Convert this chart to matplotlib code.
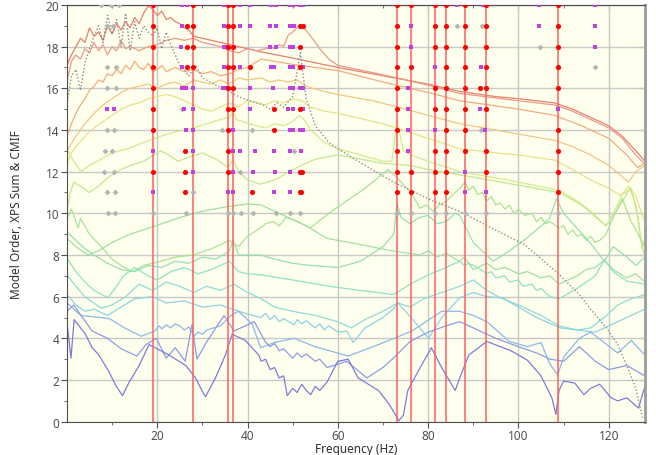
import matplotlib
matplotlib.use("Agg")
import matplotlib.pyplot as plt

# ---- curve data (frequency Hz, value) ----
f_red1 = [0, 1, 2, 3, 4, 5, 6, 7, 8, 9, 10, 11, 12, 13, 14, 15, 16, 17, 18, 19, 20, 21, 22, 23, 24, 25, 26, 27, 28, 30, 32, 34, 36, 38, 40, 43, 50, 60, 70, 80, 87, 95, 100, 108, 112, 116, 120, 123, 126, 128]
v_red1 = [17.1, 17.6, 18.0, 18.4, 18.2, 18.9, 18.5, 18.7, 18.3, 19.0, 18.6, 19.1, 18.8, 19.2, 18.9, 19.4, 19.1, 19.6, 19.95, 19.8, 19.5, 19.7, 19.3, 19.4, 19.2, 19.1, 18.9, 18.8, 18.5, 18.4, 18.3, 18.2, 18.1, 18.0, 17.9, 17.75, 17.45, 17.0, 16.6, 16.2, 15.85, 15.6, 15.5, 15.3, 15.0, 14.6, 14.2, 13.7, 13.0, 12.5]

f_red2 = [0, 1, 2, 3, 4, 5, 6, 7, 8, 9, 10, 11, 12, 13, 14, 16, 18, 20, 22, 24, 26, 28, 30, 32, 34, 36, 38, 40, 42, 44, 45, 46, 47, 48, 49, 50, 51, 51.7, 52.5, 54, 56, 58, 60, 70, 80, 87, 100, 108, 112, 116, 120, 123, 126, 128]
v_red2 = [16.3, 17.3, 17.6, 17.4, 17.9, 17.7, 18.2, 17.8, 18.1, 17.6, 18.0, 17.8, 18.3, 17.9, 18.0, 17.8, 18.0, 18.1, 18.3, 18.4, 18.3, 18.4, 18.2, 18.1, 18.0, 17.8, 17.7, 17.9, 17.8, 17.9, 18.0, 17.9, 18.1, 18.0, 18.55, 18.7, 18.9, 19.0, 18.9, 18.5, 17.9, 17.4, 17.1, 16.65, 16.15, 15.75, 15.4, 15.2, 14.9, 14.5, 14.1, 13.6, 12.8, 12.35]

f_orange = [0, 1, 2, 3, 4, 5, 6, 7, 8, 9, 10, 11, 12, 13, 14, 15, 16, 17, 18, 19, 20, 21, 22, 24, 26, 28, 30, 32, 34, 36, 38, 40, 43, 50, 60, 70, 80, 87, 100, 108, 114, 120, 124, 126.4, 128]
v_orange = [13.7, 14.3, 14.8, 15.2, 15.5, 15.9, 16.1, 16.4, 16.3, 16.7, 16.6, 16.9, 16.7, 17.1, 16.9, 17.3, 17.0, 16.9, 17.2, 16.8, 16.9, 17.1, 16.8, 17.0, 16.8, 16.9, 16.7, 16.8, 16.6, 16.7, 16.9, 17.0, 17.4, 17.15, 16.85, 16.3, 15.8, 15.4, 15.0, 14.7, 14.2, 13.6, 12.8, 12.2, 12.4]

f_yorange = [0, 2, 4, 6, 8, 10, 12, 14, 16, 18, 20, 22, 24, 26, 28, 30, 32, 34, 36, 38, 40, 43, 45, 47, 49, 51, 53, 56, 60, 67.8, 75, 80, 87, 95, 100, 108, 112, 116, 120, 124.4, 126, 128]
v_yorange = [13.0, 13.7, 14.3, 14.8, 15.2, 15.5, 15.8, 16.0, 16.1, 16.2, 16.0, 16.2, 16.3, 16.1, 16.4, 16.3, 16.2, 16.4, 16.2, 16.5, 16.4, 16.5, 16.3, 16.4, 16.3, 16.4, 16.1, 15.9, 15.7, 15.4, 15.0, 14.7, 14.3, 14.0, 13.8, 13.5, 13.2, 12.8, 12.3, 11.5, 12.0, 12.3]

f_yellow = [0, 1, 2, 4, 6, 8, 10, 12, 14, 16, 18, 20, 22, 24, 26, 28, 30, 32, 34, 36, 38, 40, 42, 44, 46, 48, 50, 52, 54, 57, 60, 70, 80, 87, 95, 100, 108, 112, 116, 120, 122.6, 124.5, 126, 128]
v_yellow = [12.4, 12.9, 13.2, 13.7, 14.1, 14.4, 14.7, 15.0, 15.2, 15.3, 15.5, 15.6, 15.7, 15.6, 15.4, 15.2, 15.0, 14.9, 15.1, 15.3, 15.1, 15.4, 15.3, 15.2, 15.4, 15.3, 15.5, 15.4, 15.1, 14.9, 14.8, 14.3, 13.6, 13.1, 12.9, 12.8, 12.55, 12.1, 11.6, 11.2, 10.85, 11.3, 10.8, 9.6]

f_ygreen1 = [0, 1.5, 3.1, 5, 7.6, 10, 13.5, 17, 20.8, 24, 28, 31, 34, 36, 36.8, 37.5, 39, 42, 44, 46, 48, 50, 51.5, 52.5, 54, 57, 60, 65, 70, 72, 73.1, 74.5, 76.2, 80, 87, 95, 100, 109, 113, 116, 119.4, 121, 123, 125, 126.5, 127.4, 128]
v_ygreen1 = [13.1, 12.5, 12.0, 12.3, 12.6, 12.9, 13.1, 13.4, 13.7, 13.9, 14.1, 14.3, 14.5, 14.6, 14.9, 14.5, 14.4, 14.2, 14.1, 14.3, 14.2, 14.4, 14.7, 14.5, 14.0, 13.4, 13.1, 12.8, 12.5, 12.5, 14.5, 13.0, 12.8, 12.5, 12.0, 11.7, 11.5, 11.1, 10.6, 10.1, 9.4, 10.0, 10.9, 11.2, 9.8, 8.3, 8.8]

f_ygreen2 = [0, 0.8, 1.5, 3, 5, 7, 9, 11, 14, 17, 20.8, 22.5, 24.6, 27, 30, 33, 35.7, 36.8, 38, 40, 42.9, 46, 50, 55, 60, 65, 70, 76, 80, 87, 100, 109, 114, 119.4, 122, 124.7, 126, 127.4, 128]
v_ygreen2 = [10.2, 11.0, 11.5, 11.3, 11.0, 11.3, 11.7, 12.0, 12.3, 12.5, 13.0, 12.8, 12.5, 12.7, 12.9, 12.6, 12.2, 12.6, 12.0, 11.6, 11.4, 11.6, 12.1, 12.6, 12.8, 12.6, 12.4, 12.3, 12.1, 11.85, 11.35, 11.0, 10.4, 9.4, 10.2, 11.2, 10.4, 8.3, 8.0]

f_green1 = [0, 1, 2.5, 3, 5, 8, 10, 12, 14.5, 17, 20.8, 24, 28, 32, 36, 38, 40, 42.9, 44, 45.8, 47, 48.5, 50.3, 52, 53.9, 58, 62, 66, 71.2, 73.8, 76, 78.2, 79.5, 81.1, 82.5, 84.1, 85.5, 87, 88.2, 89, 90, 91, 92, 93, 94, 95, 96, 97, 98, 99, 100, 101.4, 103, 104, 105, 106, 107, 109, 110, 111, 112, 113, 114, 115, 116, 117, 118, 119.3, 121, 123, 125, 128]
v_green1 = [9.75, 10.2, 9.3, 9.75, 9.0, 8.3, 7.8, 7.5, 7.2, 7.5, 7.7, 7.9, 8.0, 8.3, 8.7, 8.4, 8.9, 9.3, 9.5, 9.6, 9.4, 9.8, 9.7, 9.5, 9.3, 10.0, 10.6, 11.2, 12.1, 11.55, 11.05, 10.25, 10.4, 10.1, 10.4, 10.6, 10.9, 11.2, 11.5, 11.1, 11.3, 10.9, 11.0, 10.6, 10.8, 10.4, 10.5, 10.2, 10.4, 10.0, 10.2, 9.9, 10.0, 9.6, 9.8, 9.5, 9.6, 9.3, 9.4, 9.0, 9.2, 8.9, 9.0, 8.7, 8.9, 8.6, 8.7, 8.95, 9.8, 10.7, 9.6, 8.4]

f_green2 = [0, 2, 4.6, 7, 10, 14, 19, 25, 30, 35, 40, 43, 48, 53, 57.6, 65, 72, 78.2, 80, 82, 84, 86, 87, 88, 89, 91, 93, 95, 97, 100, 102, 105, 107, 109, 111, 113, 115, 117, 119, 121, 124, 126, 128]
v_green2 = [8.8, 8.4, 8.0, 8.2, 8.6, 9.0, 9.35, 9.8, 10.1, 10.3, 10.45, 10.4, 9.9, 9.4, 8.8, 8.5, 8.2, 8.0, 8.2, 7.9, 8.1, 7.8, 7.7, 7.9, 7.6, 7.4, 7.6, 7.3, 7.4, 7.1, 7.2, 6.9, 7.0, 6.6, 6.8, 7.0, 7.3, 7.4, 7.75, 7.3, 6.9, 7.1, 6.7]

f_green3 = [0, 2, 4, 6, 9, 12, 15, 18, 21, 24, 27, 30, 33, 36, 36.8, 38, 42.9, 46, 50, 54, 60, 65, 70, 72.4, 73.1, 74, 76, 78, 80, 82, 84, 86, 87, 90, 94.4, 98, 101.8, 104, 106.9, 108.4, 110, 112.9, 115, 117.3, 119, 121, 124, 126, 128]
v_green3 = [9.1, 8.7, 8.3, 8.0, 7.6, 7.3, 7.2, 7.5, 7.4, 7.7, 7.6, 7.9, 7.8, 8.2, 8.7, 8.0, 8.0, 7.8, 7.6, 7.5, 7.4, 7.7, 8.4, 9.0, 10.5, 9.8, 9.5, 9.8, 9.9, 9.5, 9.6, 10.0, 9.9, 8.6, 7.7, 8.2, 8.8, 9.2, 9.75, 10.7, 10.0, 9.3, 8.8, 8.2, 7.7, 8.4, 7.9, 7.5, 7.9]

f_teal1 = [0, 2, 4, 6, 9.1, 11, 12.5, 15, 18, 20, 23, 26, 29, 32, 36, 38, 40, 42.9, 50, 58, 65, 72.4, 76, 80, 84, 87, 88, 89, 90, 91, 93, 94, 95, 97, 98, 100, 101, 103, 104, 105, 107, 109, 113, 117, 119, 121, 124, 128]
v_teal1 = [7.85, 7.2, 6.7, 6.3, 5.95, 6.5, 7.0, 7.4, 7.0, 6.8, 7.2, 7.4, 7.1, 7.3, 7.7, 7.2, 7.1, 7.05, 6.8, 6.5, 6.3, 6.1, 6.6, 7.05, 7.4, 7.7, 7.5, 7.6, 7.3, 7.4, 7.1, 7.2, 6.9, 7.0, 6.7, 6.8, 6.5, 6.6, 6.3, 6.4, 6.0, 5.9, 6.4, 7.0, 7.75, 7.2, 6.75, 6.6]

f_teal2 = [0, 2, 4, 7.6, 10, 13, 16, 19, 22, 25, 28, 31, 34, 37, 40, 43, 46, 50, 55, 60, 63, 66, 70, 73.3, 76, 79, 83, 87, 90, 93, 96, 100, 105, 109, 113, 116, 119, 122, 125, 128]
v_teal2 = [7.05, 6.5, 6.0, 5.45, 5.6, 6.0, 6.6, 6.3, 6.7, 6.5, 6.2, 6.5, 6.3, 6.6, 6.2, 5.9, 5.5, 5.3, 5.1, 4.8, 4.5, 4.9, 5.3, 5.7, 5.5, 5.9, 6.2, 6.5, 6.8, 6.3, 5.95, 5.6, 5.1, 4.6, 4.4, 4.5, 5.0, 5.6, 5.9, 6.1]

f_cyan = [0, 2, 4, 6, 9, 12, 15, 19, 22, 26, 30, 34, 38, 42.9, 44, 45, 46, 47, 48, 50.3, 51, 52, 53, 55, 56, 57, 58, 60, 62, 63.4, 66, 70, 72.5, 73.3, 76.2, 80.1, 83, 87, 90, 93, 96.5, 100, 104, 109.3, 113, 117, 120, 123, 126, 128]
v_cyan = [6.1, 5.6, 5.3, 5.4, 5.1, 5.5, 5.9, 6.0, 5.7, 5.8, 5.5, 5.6, 5.3, 5.0, 5.2, 4.9, 5.1, 4.8, 4.95, 4.65, 4.9, 4.7, 4.85, 4.5, 4.7, 4.4, 4.6, 4.3, 4.35, 3.8, 4.5, 5.0, 5.45, 5.7, 5.0, 4.0, 5.0, 5.95, 6.2, 6.0, 5.95, 5.5, 5.0, 4.5, 4.4, 4.3, 4.6, 4.9, 5.2, 5.4]

f_lblue = [0, 3.1, 9.4, 12.8, 16.5, 19.4, 20.5, 21, 22, 23, 24, 25, 26, 27, 28.2, 29, 30, 31, 34, 36.3, 38, 41, 42.9, 46, 50.3, 55, 62.3, 69, 76.4, 83, 87, 90, 93, 98, 102, 105, 107, 108.7, 110, 113.5, 116, 119, 122, 125, 128]
v_lblue = [5.7, 5.1, 4.95, 4.5, 4.1, 4.35, 4.6, 4.45, 4.65, 4.5, 4.7, 4.6, 4.4, 4.55, 4.1, 4.3, 4.2, 4.4, 4.6, 5.1, 5.3, 4.7, 3.55, 3.8, 4.0, 3.6, 3.15, 3.7, 4.35, 5.3, 5.3, 5.1, 4.8, 3.85, 3.6, 3.8, 2.75, 2.25, 3.1, 4.0, 4.3, 3.8, 3.3, 3.9, 3.2]

f_blue = [0, 1.5, 5.6, 9, 12, 15.5, 17.5, 19.8, 22, 24, 26.2, 27.7, 28.8, 31, 34.8, 37, 41.5, 43.9, 45, 46, 47, 48, 50, 51, 52, 53, 55, 56, 57.6, 62, 66.4, 70, 72.3, 76, 80, 84, 87, 91, 95, 100, 104, 107, 110, 113.5, 117, 120, 124, 128]
v_blue = [5.3, 5.6, 4.35, 4.0, 3.5, 3.15, 3.7, 4.0, 3.05, 3.55, 2.9, 4.65, 3.0, 3.85, 5.1, 4.35, 4.8, 3.85, 3.6, 3.75, 3.4, 3.5, 3.05, 3.3, 3.1, 3.25, 2.9, 3.0, 2.6, 2.9, 2.1, 2.6, 3.05, 3.85, 4.3, 4.6, 4.8, 4.4, 4.0, 3.6, 3.3, 3.0, 2.9, 3.6, 2.9, 2.5, 2.7, 2.2]

f_purple = [0, 0.9, 1.6, 4.1, 5.6, 7.1, 9.3, 10.8, 12.3, 13.8, 16, 18.2, 22.6, 26.3, 28.5, 30, 30.7, 32.9, 35.1, 36.6, 39.5, 42.5, 43, 44, 45, 46, 47, 48, 48.8, 50, 51, 52, 53, 54, 55, 56, 57.6, 60, 62.3, 64.5, 66, 69, 71.5, 73.5, 74.5, 75.5, 78, 80.7, 83, 86, 87, 89, 93, 98.4, 102, 105, 107.4, 108.3, 109, 110, 112.5, 114.5, 116, 118, 120.5, 122, 124, 126.6, 128]
v_purple = [4.8, 3.05, 4.9, 4.2, 3.55, 3.2, 2.4, 1.75, 1.25, 1.9, 2.7, 3.7, 3.2, 2.7, 2.1, 1.45, 1.2, 2.1, 3.2, 4.2, 3.9, 3.2, 2.9, 3.0, 2.5, 2.6, 2.1, 2.2, 1.25, 1.6, 1.4, 1.8, 1.5, 1.3, 1.7, 1.5, 1.9, 2.9, 3.0, 2.1, 1.9, 1.5, 0.8, 0.05, 0.3, 1.5, 2.5, 3.55, 2.6, 1.5, 2.1, 3.2, 3.85, 3.4, 2.95, 2.2, 1.15, 0.35, 1.5, 1.95, 1.85, 1.3, 1.6, 1.8, 1.15, 1.0, 1.15, 0.65, 1.7]

# XPS sum (gray dotted)
f_xps = [0, 1, 2, 3, 4, 5, 6, 7, 8, 9, 10, 11, 12, 13, 14, 15, 16, 17, 18, 19, 20, 21, 22, 23, 24, 25, 26, 27, 28.6, 30, 33.4, 35.5, 38, 40.5, 43.5, 45, 46.5, 48, 50, 51.7, 53, 55, 58, 60, 66, 72.3, 81, 87, 94, 101.3, 108.4, 113.5, 116, 119.5, 122, 124, 126, 127.5]
v_xps = [15.2, 16.6, 16.9, 15.9, 17.2, 17.9, 18.5, 19.0, 18.2, 19.5, 18.6, 19.3, 18.0, 19.6, 17.8, 19.2, 18.4, 19.0, 18.7, 18.5, 18.9, 17.9, 18.7, 18.1, 17.6, 17.1, 16.9, 16.6, 17.1, 16.5, 16.1, 15.9, 15.6, 15.4, 15.2, 15.0, 15.3, 15.1, 15.6, 17.7, 15.5, 14.2, 13.4, 13.1, 12.3, 11.5, 10.6, 10.1, 9.3, 8.5, 7.2, 6.1, 5.4, 4.5, 3.7, 2.7, 1.6, 0.2]

curve_f = [f_red1, f_red2, f_orange, f_yorange, f_yellow, f_ygreen1, f_ygreen2,
           f_green1, f_green2, f_green3, f_teal1, f_teal2, f_cyan, f_lblue, f_blue, f_purple]
curve_v = [v_red1, v_red2, v_orange, v_yorange, v_yellow, v_ygreen1, v_ygreen2,
           v_green1, v_green2, v_green3, v_teal1, v_teal2, v_cyan, v_lblue, v_blue, v_purple]
curve_colors = ['#E8806C', '#EC9A88', '#F2AC7C', '#F2C684', '#E6E28A', '#D4EA8C', '#C0E890',
                '#AAE296', '#A0E0A0', '#96E0AE', '#8EE2C6', '#8CDCD8', '#8CD2E4', '#8CB8E8', '#8C9CE4', '#7C7CDC']

# stable frequencies (vertical red lines)
stable_f = [19.1, 27.9, 35.7, 36.8, 73.1, 76.2, 81.6, 84.0, 88.2, 92.9, 108.7]

# poles per model order (20 down to 10)
orders = [20, 19, 18, 17, 16, 15, 14, 13, 12, 11, 10]
red_poles = [
    [19.1, 27.9, 35.7, 36.8, 73.1, 76.2, 81.6, 84.0, 88.2, 92.9, 108.7],
    [19.1, 26.7, 27.9, 35.7, 36.8, 51.6, 52.3, 73.1, 81.6, 84.0, 88.2, 92.9, 108.7],
    [19.1, 26.6, 27.9, 35.7, 36.8, 51.6, 73.1, 81.6, 84.0, 88.2, 92.8, 108.7],
    [19.1, 26.6, 27.9, 35.7, 36.8, 40.5, 51.6, 73.1, 76.2, 84.0, 88.2, 92.9, 108.7],
    [19.1, 35.7, 36.8, 73.1, 81.6, 84.0, 88.2, 91.6, 92.9, 108.7],
    [19.1, 35.7, 36.8, 45.8, 51.6, 73.1, 81.6, 84.0, 88.2, 92.9],
    [19.1, 35.7, 45.8, 73.1, 84.0, 88.2, 108.7],
    [26.2, 35.7, 73.1, 81.6, 84.0, 88.2, 92.9, 108.7],
    [19.1, 26.2, 35.7, 51.6, 52.1, 73.1, 76.2, 81.6, 84.0, 92.9, 108.7],
    [26.2, 40.9, 51.6, 51.9, 73.1, 76.2, 81.6, 84.0, 108.7],
    [],
]
purple_poles = [
    [25.4, 26.6, 34.8, 38.3, 40.5, 45.3, 46.4, 49.5, 50.0, 51.7, 52.2, 86.3, 92.1, 104.5, 117.0],
    [25.4, 34.8, 38.3, 40.5, 44.9, 46.4, 49.4, 50.2, 76.2, 104.6, 117.0],
    [25.2, 34.8, 35.3, 44.9, 46.2, 49.4, 50.0, 76.2, 117.0],
    [25.4, 34.8, 38.3, 45.3, 45.8, 49.4, 50.0, 52.3, 81.5, 91.8],
    [25.6, 26.3, 27.9, 34.6, 35.3, 40.5, 45.6, 49.3, 50.0, 51.7, 52.2, 75.5],
    [8.9, 10.4, 26.0, 27.9, 40.5, 49.0, 50.1, 52.3, 75.6, 91.6, 108.7],
    [26.3, 27.9, 36.8, 49.3, 50.1, 51.6, 52.2, 75.5, 81.6, 92.6],
    [19.1, 27.9, 36.8, 38.3, 41.6, 45.8, 49.3, 51.9, 75.5],
    [27.9, 36.8, 41.3, 46.0, 49.4, 88.2],
    [19.1, 35.7, 36.8, 45.9, 49.4, 88.2, 92.9],
    [],
]
gray_poles = [
    [7.6, 9.8, 11.5],
    [8.9, 10.1, 86.3, 92.0],
    [104.8],
    [8.9, 10.9, 117.0],
    [8.9, 10.9],
    [25.4],
    [8.9, 10.4, 34.4, 41.1, 91.8],
    [8.5, 10.0, 50.2],
    [8.3, 10.4, 38.3],
    [8.9, 10.7, 27.9],
    [9.0, 10.7, 19.1, 26.3, 35.7, 36.8, 38.5, 41.3, 46.2, 49.3, 51.7, 73.1, 76.2, 81.6, 84.0, 88.2, 92.9, 108.7],
]

plt.rcParams['font.family'] = ['Noto Sans', 'DejaVu Sans']

fig = plt.figure(figsize=(6.56, 4.56), dpi=100)
ax = fig.add_axes([0.102, 0.073, 0.881, 0.914])
ax.set_facecolor('#FFFFEE')

for fs, vs, c in zip(curve_f, curve_v, curve_colors):
    ax.plot(fs, vs, color=c, lw=0.9, zorder=2)
ax.plot(f_xps, v_xps, color='#8C8C8C', lw=1.0, ls=(0, (1, 1.5)), zorder=2)

for f in stable_f:
    ax.axvline(f, color='#FF6060', lw=1.4, alpha=0.8, zorder=3)

for n, rp, pp, gp in zip(orders, red_poles, purple_poles, gray_poles):
    ax.plot(gp, [n] * len(gp), ls='none', marker='D', ms=3.0, mew=0, color='#B4B4B4', zorder=4)
    ax.plot(pp, [n] * len(pp), ls='none', marker='s', ms=3.4, mew=0, color='#C040E0', zorder=5)
    ax.plot(rp, [n] * len(rp), ls='none', marker='o', ms=3.7, mew=0, color='#FF0000', zorder=6)

ax.set_xlim(0, 128)
ax.set_ylim(0, 20)
ax.set_xticks(range(20, 121, 20))
ax.set_xticks(range(10, 128, 10), minor=True)
ax.set_yticks(range(0, 21, 2))
ax.set_yticks(range(1, 20, 2), minor=True)
ax.grid(True, which='major', color='#C8C8C8', lw=1.0, zorder=1)
ax.set_axisbelow(True)
ax.tick_params(which='major', direction='out', length=4, pad=1.5, color='#505050',
               labelsize=8.5, labelcolor='#505050')
ax.tick_params(which='minor', direction='out', length=2.5, color='#505050')
for s in ['left', 'bottom', 'top']:
    ax.spines[s].set_color('#505050')
ax.spines['right'].set_color('#A0A0A0')
ax.spines['right'].set_linewidth(2)

top = ax.secondary_xaxis('top')
top.set_xticks(range(20, 121, 20))
top.set_xticks(range(10, 128, 10), minor=True)
top.set_xticklabels([])
top.tick_params(which='major', direction='in', length=4, color='#505050')
top.tick_params(which='minor', direction='in', length=2.5, color='#505050')
top.spines['top'].set_color('#505050')

right = ax.secondary_yaxis('right')
right.set_yticks(range(0, 21, 2))
right.set_yticks(range(1, 20, 2), minor=True)
right.set_yticklabels([])
right.tick_params(which='major', direction='in', length=4, color='#505050')
right.tick_params(which='minor', direction='in', length=0)
right.spines['right'].set_color('#A0A0A0')
right.spines['right'].set_linewidth(2)

ax.set_xlabel('Frequency (Hz)', fontsize=8.5, color='#303030', labelpad=0)
ax.set_ylabel('Model Order, XPS Sum & CMIF', fontsize=8.5, color='#303030', labelpad=16)

fig.savefig('out.png', dpi=100)
